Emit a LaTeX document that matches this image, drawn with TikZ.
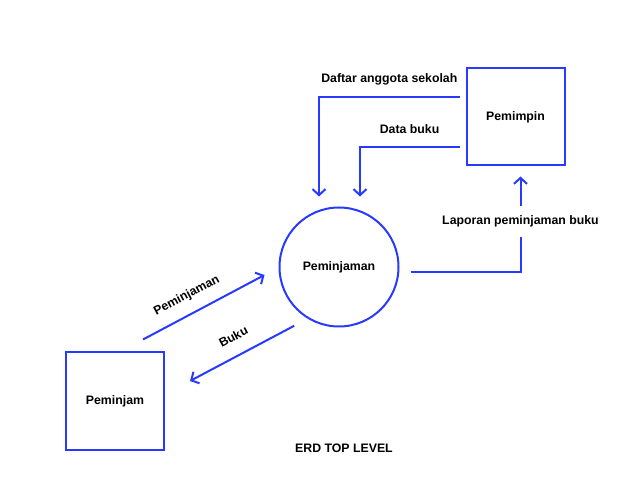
\documentclass[tikz,border=0pt]{standalone}
\usepackage{fontspec}
\setmainfont{Liberation Sans}
\usetikzlibrary{positioning,arrows.meta,calc}
\definecolor{erdblue}{RGB}{40,58,255}

\begin{document}
\begin{tikzpicture}[
    x=1pt, y=-1pt, font=\fontsize{12.3}{14}\selectfont\bfseries,
    >={Straight Barb[length=6pt,width=13pt]},
    ent/.style={draw=erdblue, line width=2pt, minimum width=98pt, minimum height=97pt},
    proc/.style={draw=erdblue, line width=2pt, circle, minimum size=119pt},
    flow/.style={->, draw=erdblue, line width=2pt}]
  \useasboundingbox (0,0) rectangle (638,497);
  \node[ent] (pimpin) at (515.5,117) {Pemimpin};
  \node[ent] (pinjam) at (115,401) {Peminjam};
  \node[proc] (proses) at (339,267) {Peminjaman};
  \node (judul) at (344,448) {ERD TOP LEVEL};
  \draw[flow, shorten <=6pt, shorten >=10pt] ([yshift=20pt]pimpin.west) -| node[pos=0.26, above=8pt] {Daftar anggota sekolah} ([xshift=-20pt]proses.north);
  \draw[flow, shorten <=6pt, shorten >=10pt] ([yshift=-30pt]pimpin.west) -| node[pos=0.265, above=9pt] {Data buku} ([xshift=21pt]proses.north);
  \draw[flow, shorten <=11pt, shorten >=10pt] ([yshift=-5pt]proses.east) -| node[pos=0.74, fill=white, inner xsep=4pt, inner ysep=10pt] {Laporan peminjaman buku} ([xshift=5pt]pimpin.south);
  \draw[flow] ([shift={(-22pt,12pt)}]pinjam.north east) -- node[pos=0.43, sloped, above=8pt] {Peminjaman} ([shift={(-14pt,-8pt)}]proses.west);
  \draw[flow] ([shift={(-2pt,-16pt)}]proses.south west) -- node[pos=0.5, sloped, above=10pt] {Buku} ([shift={(25pt,20pt)}]pinjam.east);
\end{tikzpicture}
\end{document}
